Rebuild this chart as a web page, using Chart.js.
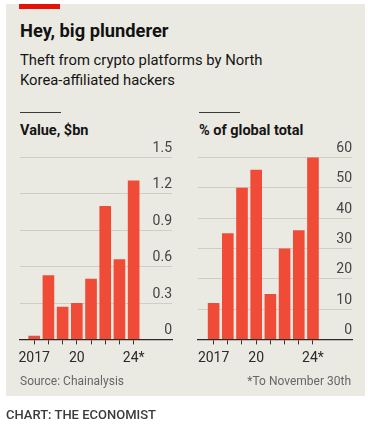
<!DOCTYPE html>
<html>
<head>
<meta charset="utf-8">
<script src="https://cdn.jsdelivr.net/npm/chart.js@4"></script>
<style>
  body { margin: 0; width: 368px; height: 431px; background: #fff; font-family: Roboto, sans-serif; position: relative; overflow: hidden; }
  .panel { position: absolute; left: 6px; top: 4px; width: 359px; height: 392px; background: #ebeae2; }
  .abs { position: absolute; white-space: nowrap; }
  .redbar { position: absolute; left: 19px; top: 4px; width: 41px; height: 5px; background: #e3120b; }
  .title { left: 20px; top: 21.5px; font-size: 18.3px; line-height: 18px; font-weight: 700; color: #121212; }
  .sub { left: 20px; top: 50px; font-size: 14.8px; line-height: 20px; color: #141414; }
  .rule { position: absolute; top: 111.5px; width: 41px; height: 1.5px; background: #3a3a3a; }
  .ptitle { top: 124.4px; font-size: 14.5px; line-height: 14.5px; font-weight: 700; color: #151515; }
  .src { top: 375px; font-size: 12px; line-height: 12px; color: #666; }
  .credit { left: 6px; top: 408.4px; font-size: 13px; line-height: 13px; font-weight: 500; color: #3b3b3b; }
  canvas { position: absolute; top: 140px; }
</style>
</head>
<body>
<div class="panel"></div>
<div class="redbar"></div>
<div class="abs title">Hey, big plunderer</div>
<div class="abs sub">Theft from crypto platforms by North<br>Korea-affiliated hackers</div>
<div class="rule" style="left:20px"></div>
<div class="rule" style="left:199px"></div>
<div class="abs ptitle" style="left:20px">Value, $bn</div>
<div class="abs ptitle" style="left:199px">% of global total</div>
<canvas id="left" width="184" height="235" style="left:0px"></canvas>
<canvas id="right" width="184" height="235" style="left:184px"></canvas>
<div class="abs src" style="left:20px">Source: Chainalysis</div>
<div class="abs src" style="right:17px">*To November 30th</div>
<div class="abs credit">CHART: THE ECONOMIST</div>

<script>
const years = [2017, 2018, 2019, 2020, 2021, 2022, 2023, 2024];
const yearLabels = ['2017', '', '', '20', '', '', '', '24*'];
const valueBn = [0.03, 0.53, 0.27, 0.30, 0.50, 1.10, 0.66, 1.31];
const shareOfGlobal = [12, 35, 50, 56, 15, 30, 36, 61];
const valueTicks = [0, 0.3, 0.6, 0.9, 1.2, 1.5];
const shareTicks = [0, 10, 20, 30, 40, 50, 60];

Chart.defaults.font.family = 'Roboto, sans-serif';

function makeChart(id, values, yTicks, fmt, xMin, xMax, pad) {
  const ctx = document.getElementById(id).getContext('2d');
  return new Chart(ctx, {
    type: 'bar',
    data: {
      datasets: [{
        data: years.map((yr, i) => ({ x: yr, y: values[i] })),
        backgroundColor: '#ef4b36',
        borderWidth: 0,
        barPercentage: 0.82,
        categoryPercentage: 1
      }]
    },
    options: {
      responsive: false,
      animation: false,
      devicePixelRatio: 1,
      layout: { padding: pad },
      plugins: { legend: { display: false }, tooltip: { enabled: false } },
      scales: {
        x: {
          type: 'linear',
          min: xMin,
          max: xMax,
          offset: false,
          z: 1,
          afterBuildTicks: axis => { axis.ticks = years.map(v => ({ value: v })); },
          grid: { offset: false, drawOnChartArea: false, color: '#333', tickLength: 5, lineWidth: 1 },
          border: { display: true, color: '#2a2a2a', width: 1.3 },
          ticks: {
            autoSkip: false,
            maxRotation: 0,
            padding: 5.5,
            color: '#2a2a2a',
            font: { size: 14 },
            callback: (v, i) => yearLabels[i]
          }
        },
        y: {
          position: 'right',
          min: yTicks[0],
          max: yTicks[yTicks.length - 1],
          afterBuildTicks: axis => { axis.ticks = yTicks.map(v => ({ value: v })); },
          grid: {
            drawTicks: false,
            color: ctx => ctx.tick && ctx.tick.value === 0 ? 'rgba(0,0,0,0)' : '#cfcec6',
            lineWidth: 1
          },
          border: { display: false },
          ticks: {
            mirror: true,
            padding: 0,
            labelOffset: -9,
            color: '#444',
            font: { size: 14 },
            callback: v => fmt(v)
          }
        }
      }
    }
  });
}

makeChart('left', valueBn, valueTicks, v => v === 0 ? '0' : v.toFixed(1), 2016.0, 2026.7,
  { left: 20, right: 12, top: 17.5, bottom: 2.8 });
makeChart('right', shareOfGlobal, shareTicks, v => String(v), 2015.9, 2026.75,
  { left: 14, right: 16, top: 17.5, bottom: 2.8 });
</script>
</body>
</html>
